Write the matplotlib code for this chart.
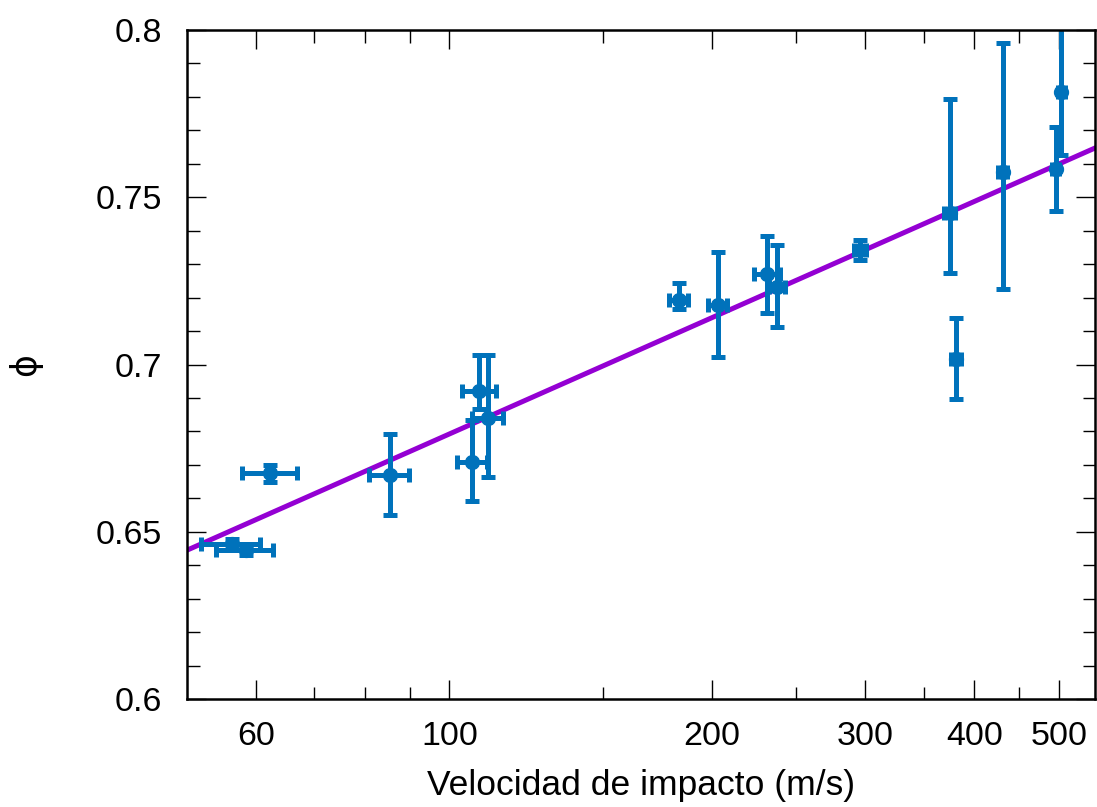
import numpy as np
import matplotlib.pyplot as plt
from matplotlib.ticker import FixedLocator, NullFormatter

plt.rcParams['font.family'] = ['Liberation Sans', 'DejaVu Sans']

# impact velocity (m/s) and packing fraction phi, with error bars
vel = [56.3, 58.4, 62.3, 85.4, 106.2, 108.2, 110.6, 183.2, 203.2, 231.6,
       237.6, 295.8, 374.7, 381.3, 431.0, 496.0, 503.6]
phi = [0.6462, 0.6445, 0.6675, 0.6670, 0.6708, 0.6921, 0.6839, 0.7193, 0.7178, 0.7270,
       0.7233, 0.7342, 0.7454, 0.7016, 0.7576, 0.7584, 0.7816]
phi_lo = [0.0015, 0.0015, 0.0025, 0.0120, 0.0116, 0.0054, 0.0176, 0.0028, 0.0155, 0.0117,
          0.0120, 0.0030, 0.0181, 0.0119, 0.0349, 0.0124, 0.0189]
phi_hi = [0.0015, 0.0015, 0.0025, 0.0123, 0.0126, 0.0108, 0.0189, 0.0050, 0.0159, 0.0114,
          0.0125, 0.0030, 0.0339, 0.0124, 0.0384, 0.0126, 0.0190]
vel_err = [4.4, 4.4, 4.5, 4.5, 4.2, 4.8, 4.6, 4.8, 5.0, 7.8,
           5.0, 5.0, 5.0, 5.0, 5.0, 5.0, 5.0]

# fitted line (straight on log-x axis)
fit_x = [50, 550]
fit_y = [0.6445, 0.7647]

xticks = [60, 100, 200, 300, 400, 500]
xminor = [70, 80, 90, 150, 250, 350, 450]
yticks = [0.6, 0.65, 0.7, 0.75, 0.8]
ylabels = ['0.6', '0.65', '0.7', '0.75', '0.8']

blue = '#0072bb'
purple = '#9400d3'

fig = plt.figure(figsize=(10.97, 8.07), dpi=100)
ax = fig.add_axes([0.1705, 0.1338, 0.8275, 0.829])

ax.plot(fit_x, fit_y, color=purple, lw=3.6, zorder=1)
ax.errorbar(vel, phi, yerr=[phi_lo, phi_hi], xerr=vel_err, fmt='o', color=blue,
            ms=10, elinewidth=3.6, capsize=5, capthick=3.6, zorder=2)

ax.set_xscale('log')
ax.set_xlim(50, 550)
ax.set_ylim(0.6, 0.8)

ax.xaxis.set_major_locator(FixedLocator(xticks))
ax.xaxis.set_minor_locator(FixedLocator(xminor))
ax.set_xticklabels([str(t) for t in xticks])
ax.xaxis.set_minor_formatter(NullFormatter())
ax.set_yticks(yticks)
ax.set_yticklabels(ylabels)
ax.yaxis.set_minor_locator(FixedLocator(np.arange(0.61, 0.80, 0.01)))

ax.tick_params(which='both', direction='in', top=True, right=True, labelsize=24.5,
               width=1)
ax.tick_params(axis='x', pad=16)
ax.tick_params(axis='y', pad=18)
ax.tick_params(which='major', length=14)
ax.tick_params(which='minor', length=9)
for s in ax.spines.values():
    s.set_linewidth(1.8)

ax.set_xlabel('Velocidad de impacto (m/s)', fontsize=25.5, labelpad=12)
fig.text(25 / 1097, 1 - 365 / 807, 'ϕ', rotation=90, fontsize=25,
         ha='center', va='center', family=['DejaVu Sans'])

fig.savefig('out.png', dpi=100)
